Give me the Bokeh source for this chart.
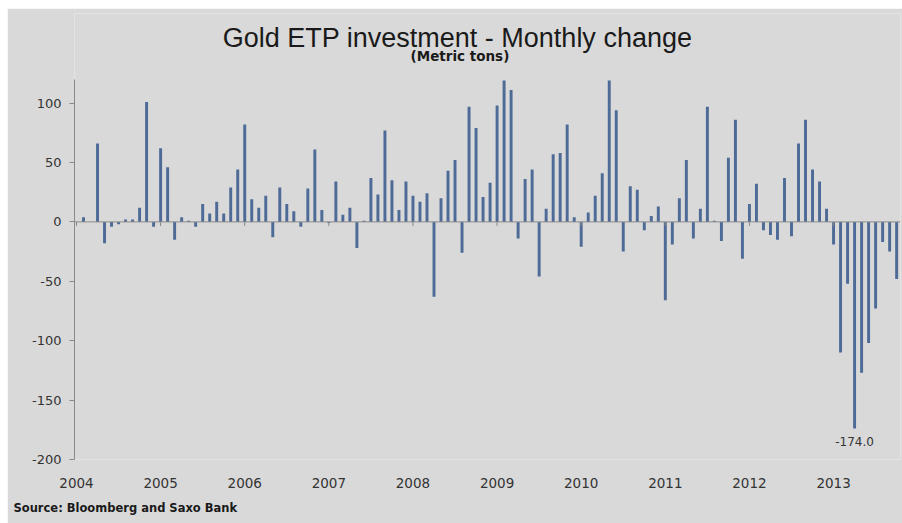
import numpy as np
from bokeh.plotting import figure
from bokeh.models import ColumnDataSource, FixedTicker, Label, Span, Title
from bokeh.embed import file_html
from bokeh.resources import INLINE

title_text = "Gold ETP investment  - Monthly change"
subtitle_text = "(Metric tons)"
source_text = "Source: Bloomberg and Saxo Bank"

first_year = 2004
years = [2004, 2005, 2006, 2007, 2008, 2009, 2010, 2011, 2012, 2013]

# Monthly change in metric tons, Jan 2004 .. Oct 2013
monthly_change = [
    0, 4, 0, 66, -18, -4, -2, 2, 2, 12, 101, -4,            # 2004
    62, 46, -15, 4, 1, -4, 15, 7, 17, 7, 29, 44,            # 2005
    82, 19, 12, 22, -13, 29, 15, 9, -4, 28, 61, 10,         # 2006
    -1, 34, 6, 12, -22, 1, 37, 23, 77, 35, 10, 34,          # 2007
    22, 17, 24, -63, 20, 43, 52, -26, 97, 79, 21, 33,       # 2008
    98, 119, 111, -14, 36, 44, -46, 11, 57, 58, 82, 4,      # 2009
    -21, 8, 22, 41, 119, 94, -25, 30, 27, -7, 5, 13,        # 2010
    -66, -19, 20, 52, -14, 11, 97, 1, -16, 54, 86, -31,     # 2011
    15, 32, -7, -11, -15, 37, -12, 66, 86, 44, 34, 11,      # 2012
    -19, -110, -52, -174, -127, -102, -73, -17, -25, -48,   # 2013
]

y_ticks = [-200, -150, -100, -50, 0, 50, 100]
y_axis_min, y_axis_max = -200, 120

month_index = list(range(len(monthly_change)))
year_start_index = [(y - first_year) * 12 for y in years]
min_i = int(np.argmin(monthly_change))
min_v = monthly_change[min_i]

src = ColumnDataSource(dict(x=month_index, v=monthly_change))

BG = "#d9d9d9"
AXIS = "#8a8a8a"
BAR = "#4d6b96"
TXT = "#333333"

p = figure(width=895, height=515, output_backend="svg", toolbar_location=None,
           x_range=(-0.285, 117.55), y_range=(y_axis_min, 175.4),
           min_border_left=67, min_border_right=2, min_border_top=5, min_border_bottom=63,
           background_fill_color=BG, border_fill_color=BG, outline_line_color=None)
p.margin = (8, 0, 0, 7)

p.vbar(x="x", top="v", bottom=0, width=0.42, source=src,
       fill_color=BAR, line_color=None)

p.add_layout(Span(location=0, dimension="width", line_color=AXIS, line_width=1))
p.segment(x0=year_start_index, y0=[0] * len(years), x1=year_start_index,
          y1=[-3.5] * len(years), line_color=AXIS, line_width=1)

p.grid.visible = False

xa = p.xaxis[0]
xa.ticker = FixedTicker(ticks=year_start_index)
xa.major_label_overrides = {i: str(y) for i, y in zip(year_start_index, years)}
xa.axis_line_color = None
xa.major_tick_line_color = None
xa.minor_tick_line_color = None
xa.major_label_standoff = 12
xa.major_label_text_font = "DejaVu Sans"
xa.major_label_text_font_size = "13.5px"
xa.major_label_text_color = TXT

ya = p.yaxis[0]
ya.ticker = FixedTicker(ticks=y_ticks)
ya.major_label_overrides = {v: str(v) for v in y_ticks}
ya.bounds = (y_axis_min, y_axis_max)
ya.axis_line_color = AXIS
ya.major_tick_line_color = AXIS
ya.major_tick_out = 5
ya.major_tick_in = 0
ya.minor_tick_line_color = None
ya.major_label_standoff = 8
ya.major_label_text_font = "DejaVu Sans"
ya.major_label_text_font_size = "13px"
ya.major_label_text_color = TXT

p.add_layout(Label(x=54.9, y=155.0, text=title_text, text_align="center",
                   text_baseline="alphabetic", text_font="Liberation Sans",
                   text_font_size="27px", text_color="#1a1a1a"))
p.add_layout(Label(x=54.7, y=140.0, text=subtitle_text, text_align="center",
                   text_baseline="alphabetic", text_font="DejaVu Sans",
                   text_font_style="bold", text_font_size="13.5px", text_color="#1a1a1a"))
p.add_layout(Label(x=min_i, y=min_v, y_offset=-8, text=f"{min_v:.1f}", text_align="center",
                   text_baseline="top", text_font="DejaVu Sans",
                   text_font_size="12px", text_color=TXT))

p.add_layout(Title(text=source_text, align="left", offset=-61, standoff=17,
                   vertical_align="bottom", text_font="DejaVu Sans",
                   text_font_style="bold", text_font_size="11.5px",
                   text_color="#1a1a1a"), "below")

open("out.html", "w").write(file_html(p, INLINE))
